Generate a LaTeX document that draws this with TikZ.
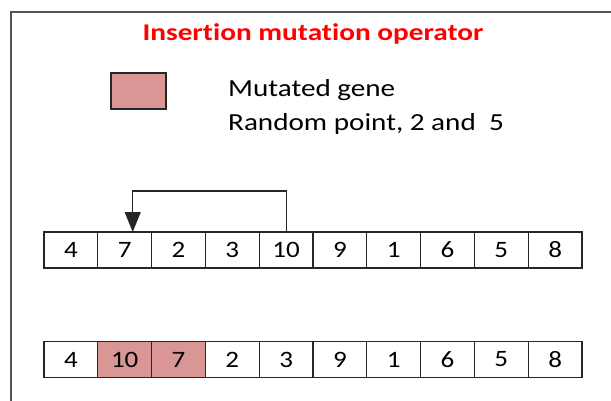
\documentclass[tikz,border=0pt]{standalone}
\usepackage{fontspec}
\setmainfont{Carlito}
\newfontfamily\titlefont[FakeStretch=1.22,Ligatures=NoCommon]{Carlito}
\newfontfamily\legfont[FakeStretch=1.19,Ligatures=NoCommon]{Carlito}
\newfontfamily\cellfont[FakeStretch=1.15]{Carlito}
\usetikzlibrary{arrows.meta}
\definecolor{mutred}{HTML}{D99694}
\definecolor{framegray}{HTML}{555555}
\tikzset{
  cell/.style={draw=black!85, line width=1.3pt, minimum width=53.8pt, minimum height=36pt,
    inner sep=0pt, outer sep=0pt, anchor=north west, font=\cellfont\fontsize{23.5}{26}\selectfont},
  legtext/.style={anchor=base west, inner sep=0pt, font=\legfont\fontsize{24.5}{28}\selectfont},
  link/.style={line width=1.2pt, black!85, -{Triangle[width=16pt,length=20pt]}}
}
\begin{document}
\begin{tikzpicture}[x=1pt,y=-1pt]
\useasboundingbox (0,0) rectangle (611,400);
\draw[framegray, line width=1.5pt] (11,12) rectangle (640,430);
\node[anchor=base, inner sep=0pt, text=red, font=\titlefont\bfseries\fontsize{24}{27}\selectfont] (title) at (313,40.5) {Insertion mutation operator};
\node[draw=black!85, line width=1.5pt, fill=mutred, minimum width=55pt, minimum height=36pt, inner sep=0pt, anchor=north west] (leg) at (110,72) {};
\node[legtext] (l1) at (228,96) {Mutated gene};
\node[legtext] (l2) at (228,130) {Random point, 2 and\ \ 5};
% row 1
\foreach \v [count=\i] in {4,7,2,3,10,9,1,6,5,8}
  \node[cell] (a\i) at ({44+(\i-1)*53.8},232) {\v};
% row 2
\foreach \v [count=\i] in {4,10,7,2,3,9,1,6,5,8}
  \node[cell] (b\i) at ({44+(\i-1)*53.8},341.5) {\v};
\fill[mutred] (b2.north west) rectangle (b3.south east);
\draw[black!85, line width=1.3pt] (b2.north west) rectangle (b2.south east) (b3.north west) rectangle (b3.south east);
\node[font=\cellfont\fontsize{23.5}{26}\selectfont] at (b2) {10};
\node[font=\cellfont\fontsize{23.5}{26}\selectfont] at (b3) {7};
\draw[link] (a5.north) -- ++(0,-41) -| ([xshift=8pt]a2.north);
\end{tikzpicture}
\end{document}
